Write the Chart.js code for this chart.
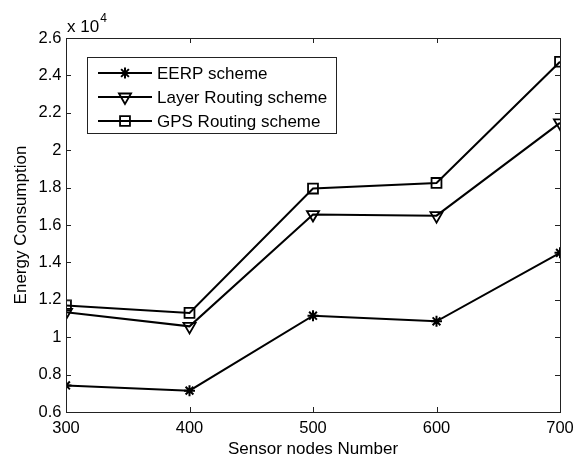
<!DOCTYPE html>
<html><head><meta charset="utf-8">
<style>html,body{margin:0;padding:0;background:#fff;}canvas{display:block;}</style>
<script src="https://cdn.jsdelivr.net/npm/chart.js@4.4.1/dist/chart.umd.min.js"></script>
</head><body>
<canvas id="c" width="576" height="457"></canvas>
<script>
// ---- data ----
const sensorNodes = [300, 400, 500, 600, 700];
const eerpEnergy  = [7420, 7140, 11150, 10850, 14510];
const layerEnergy = [11330, 10580, 16560, 16500, 21460];
const gpsEnergy   = [11700, 11300, 17950, 18250, 24730];
const seriesNames = ['EERP scheme', 'Layer Routing scheme', 'GPS Routing scheme'];
const xTickValues = [300, 400, 500, 600, 700];
const yTickValues = [6000, 8000, 10000, 12000, 14000, 16000, 18000, 20000, 22000, 24000, 26000];
const xTitle = 'Sensor nodes Number';
const yTitle = 'Energy Consumption';
const yExpBase = 'x 10';
const yExpPower = '4';

const FONT = '"Liberation Sans", Arial, Helvetica, sans-serif';
const AXC = '#222';

function pts(vals){ return sensorNodes.map((x,i)=>({x:x, y:vals[i]})); }

const frame = {
  id: 'frame',
  afterDraw(chart){
    const ctx = chart.ctx, a = chart.chartArea;
    const xs = chart.scales.x, ys = chart.scales.y;
    ctx.save();
    ctx.strokeStyle = AXC; ctx.lineWidth = 1;
    ctx.strokeRect(Math.round(a.left)+0.5, Math.round(a.top)+0.5, Math.round(a.right-a.left), Math.round(a.bottom-a.top));
    const TL = 5;
    ctx.beginPath();
    xTickValues.forEach(v=>{
      const px = Math.round(xs.getPixelForValue(v))+0.5;
      ctx.moveTo(px, a.bottom); ctx.lineTo(px, a.bottom-TL);
      ctx.moveTo(px, a.top); ctx.lineTo(px, a.top+TL);
    });
    yTickValues.forEach(v=>{
      const py = Math.round(ys.getPixelForValue(v))+0.5;
      ctx.moveTo(a.left, py); ctx.lineTo(a.left+TL, py);
      ctx.moveTo(a.right, py); ctx.lineTo(a.right-TL, py);
    });
    ctx.stroke();

    // exponent label
    ctx.fillStyle = '#000';
    ctx.textBaseline = 'alphabetic'; ctx.textAlign = 'left';
    ctx.font = '17px ' + FONT;
    ctx.fillText(yExpBase, a.left+1, 32);
    const w = ctx.measureText(yExpBase).width;
    ctx.font = '12px ' + FONT;
    ctx.fillText(yExpPower, a.left+1+w+1, 22);

    // legend
    const lx = 87.5, ly = 57.5, lw = 249, lh = 76;
    ctx.fillStyle = '#fff';
    ctx.fillRect(lx, ly, lw, lh);
    ctx.strokeStyle = AXC; ctx.lineWidth = 1;
    ctx.strokeRect(lx, ly, lw, lh);
    ctx.font = '17px ' + FONT;
    ctx.textBaseline = 'middle';
    chart.data.datasets.forEach((ds, i)=>{
      const y = 73 + i*24;
      ctx.strokeStyle = ds.borderColor; ctx.lineWidth = ds.borderWidth;
      ctx.beginPath(); ctx.moveTo(98, y); ctx.lineTo(152, y); ctx.stroke();
      ctx.fillStyle = 'rgba(0,0,0,0)';
      ctx.strokeStyle = ds.pointBorderColor;
      ctx.lineWidth = ds.pointBorderWidth;
      Chart.helpers.drawPoint(ctx, {
        pointStyle: ds.pointStyle, rotation: ds.pointRotation || 0,
        radius: ds.pointRadius, borderWidth: ds.pointBorderWidth
      }, 125, y);
      ctx.fillStyle = '#000';
      ctx.fillText(ds.label, 157, y+1);
    });
    ctx.restore();
  }
};

function tickSetter(vals){ return function(scale){ scale.ticks = vals.map(v=>({value:v})); }; }

new Chart(document.getElementById('c'), {
  type: 'line',
  data: {
    datasets: [
      { label: seriesNames[0], data: pts(eerpEnergy), borderColor: '#000', borderWidth: 2,
        pointStyle: 'star', pointRadius: 5.5, pointBorderWidth: 2, pointBorderColor: '#000', pointBackgroundColor: 'rgba(0,0,0,0)' },
      { label: seriesNames[1], data: pts(layerEnergy), borderColor: '#000', borderWidth: 2,
        pointStyle: 'triangle', pointRotation: 180, pointRadius: 7, pointBorderWidth: 1.8, pointBorderColor: '#000', pointBackgroundColor: 'rgba(0,0,0,0)' },
      { label: seriesNames[2], data: pts(gpsEnergy), borderColor: '#000', borderWidth: 2,
        pointStyle: 'rect', pointRadius: 7, pointBorderWidth: 1.8, pointBorderColor: '#000', pointBackgroundColor: 'rgba(0,0,0,0)' }
    ]
  },
  options: {
    responsive: false, animation: false,
    layout: { padding: { top: 38, right: 16, left: 0, bottom: 0 } },
    plugins: { legend: { display: false }, tooltip: { enabled: false } },
    elements: { line: { tension: 0 } },
    scales: {
      x: {
        type: 'linear', min: 300, max: 700,
        afterBuildTicks: tickSetter(xTickValues),
        afterFit: s => { s.height = 45; s.paddingLeft = 0; s.paddingRight = 0; },
        grid: { display: false, drawTicks: false },
        border: { display: false },
        ticks: { color: '#000', padding: 7, font: { family: FONT, size: 16.5 }, maxRotation: 0, autoSkip: false,
                 callback: v => String(v) },
        title: { display: true, text: xTitle, color: '#000', font: { family: FONT, size: 17, lineHeight: 1 }, padding: { top: 0, bottom: -1 } }
      },
      y: {
        type: 'linear', min: 6000, max: 26000,
        afterBuildTicks: tickSetter(yTickValues),
        afterFit: s => { s.width = 66; s.paddingTop = 0; s.paddingBottom = 0; },
        grid: { display: false, drawTicks: false },
        border: { display: false },
        ticks: { color: '#000', padding: 4.5, font: { family: FONT, size: 16.5 }, autoSkip: false,
                 callback: v => String(Number((v/10000).toFixed(1))) },
        title: { display: true, text: yTitle, color: '#000', font: { family: FONT, size: 17, lineHeight: 1.2 }, padding: { top: 11, bottom: 0 } }
      }
    }
  },
  plugins: [frame]
});
</script>
</body></html>
